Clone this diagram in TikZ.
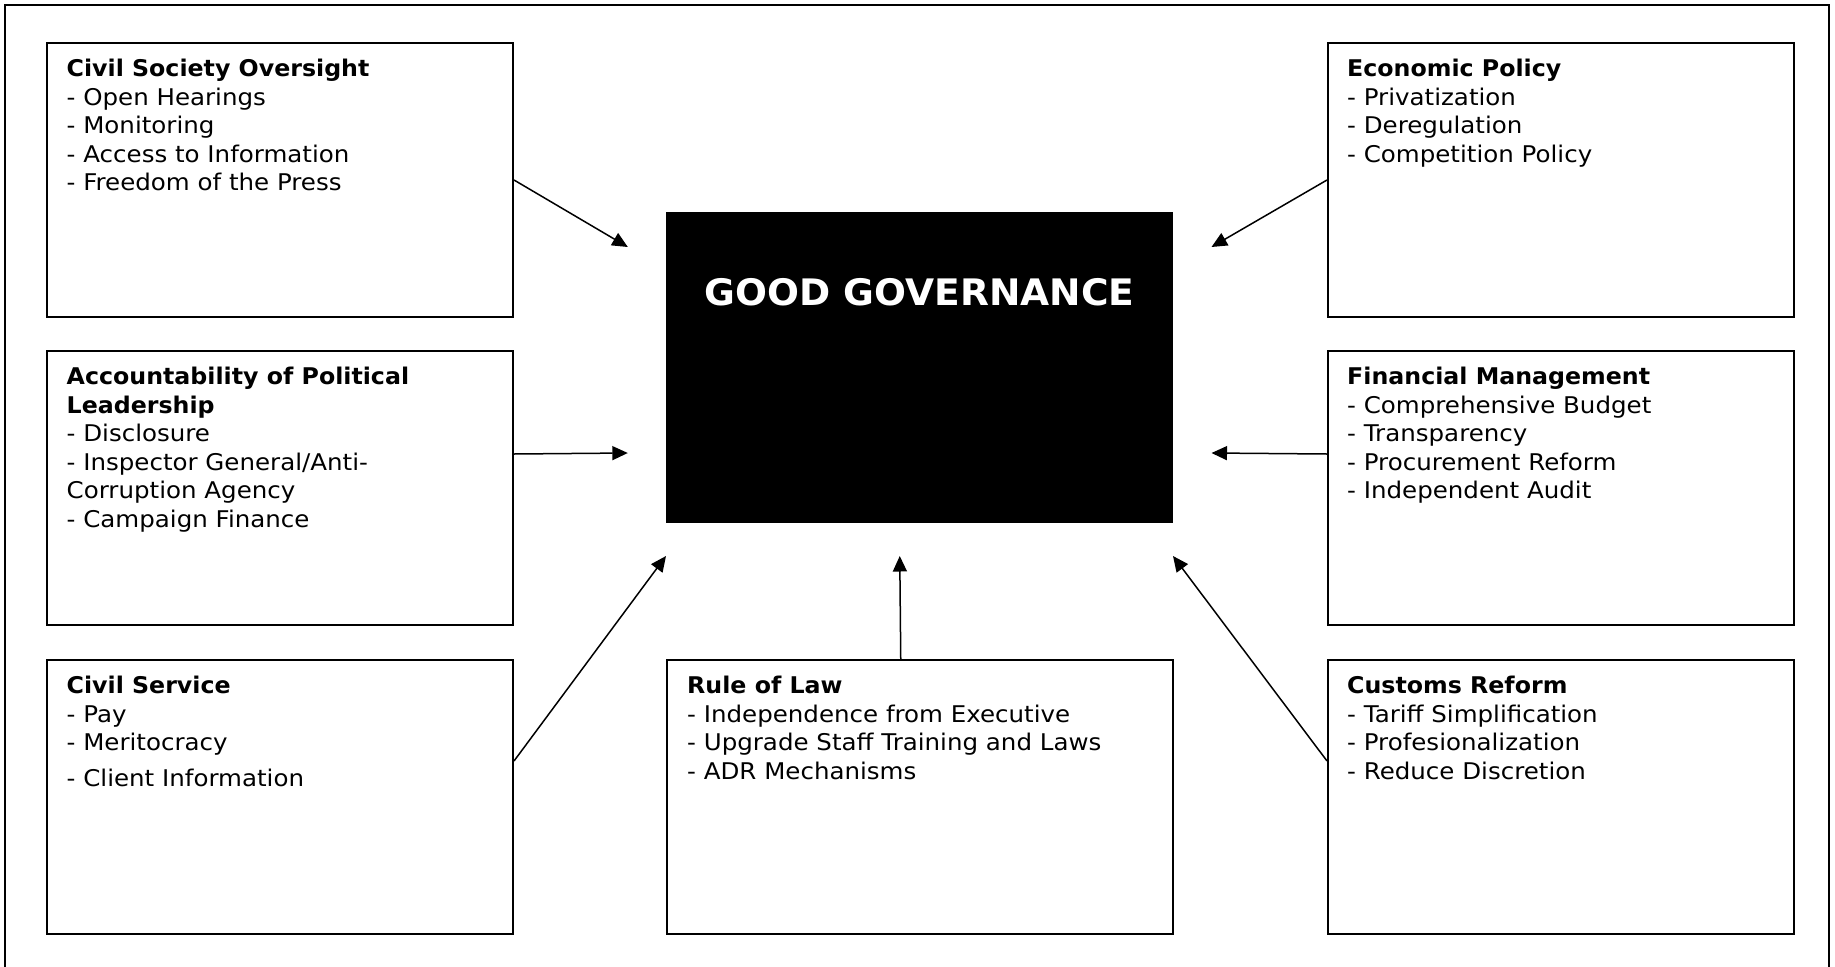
\documentclass[tikz,border=0pt]{standalone}
\usepackage{fontspec}
\setmainfont{DejaVu Sans}[FakeStretch=1.066,BoldFeatures={FakeStretch=1.03}]
\usetikzlibrary{arrows.meta,calc}
\newcommand\fl{\rule{0pt}{20.7pt}}
\begin{document}
\begin{tikzpicture}[x=1pt,y=-1pt,
 box/.style={draw,line width=2pt,anchor=north west,inner sep=0,minimum width=466pt,minimum height=274pt},
 txt/.style={anchor=north west,inner sep=0,align=left,font=\fontsize{23}{28.6}\selectfont},
 arr/.style={-{Triangle[length=15.5pt,width=14pt]},line width=1.5pt}]
\useasboundingbox (0,0) rectangle (1835,966);
\draw[line width=2pt] (5,975) -- (5,5) -- (1829,5) -- (1829,975);
% boxes
\node[box] (cso) at (46,42) {};
\node[box] (acc) at (46,350) {};
\node[box] (csv) at (46,659) {};
\node[box] (eco) at (1327,42) {};
\node[box] (fin) at (1327,350) {};
\node[box] (cus) at (1327,659) {};
\node[box,minimum width=505.5pt] (rol) at (666,659) {};
\node[draw,fill=black,anchor=north west,inner sep=0,minimum width=506pt,minimum height=310pt] (gg) at (666,212) {};
% texts
\node[txt] (cso-t) at (66.5,55.6) {\fl\textbf{Civil Society Oversight}\\- Open Hearings\\- Monitoring\\- Access to Information\\- Freedom of the Press};
\node[txt] (acc-t) at (66.5,363.6) {\fl\textbf{Accountability of Political}\\\textbf{Leadership}\\- Disclosure\\- Inspector General/Anti-\\Corruption Agency\\- Campaign Finance};
\node[txt] (csv-t) at (66.5,672.6) {\fl\textbf{Civil Service}\\- Pay\\- Meritocracy\\[7pt]- Client Information};
\node[txt] (eco-t) at (1347,55.6) {\fl\textbf{Economic Policy}\\- Privatization\\- Deregulation\\- Competition Policy};
\node[txt] (fin-t) at (1347,363.6) {\fl\textbf{Financial Management}\\- Comprehensive Budget\\- Transparency\\- Procurement Reform\\- Independent Audit};
\node[txt] (cus-t) at (1347,672.6) {\fl\textbf{Customs Reform}\\- Tariff Simplification\\- Profesionalization\\- Reduce Discretion};
\node[txt] (rol-t) at (687,672.6) {\fl\textbf{Rule of Law}\\- Independence from Executive\\- Upgrade Staff Training and Laws\\- ADR Mechanisms};
\node[font=\fontsize{36.5}{40}\selectfont\bfseries,text=white,anchor=base,inner sep=0] (gg-t) at (919.5,305) {GOOD GOVERNANCE};
% arrow ends
\coordinate (e1) at (627.8,247);
\coordinate (e2) at (627.8,453);
\coordinate (e3) at (666,556);
\coordinate (e4) at (899.75,556);
\coordinate (e5) at (1173,556);
\coordinate (e6) at (1211.5,247);
\coordinate (e7) at (1211.5,453);
\draw[arr] (cso.east) -- (e1);
\draw[arr] ($(acc.east)+(0,-34)$) -- (e2);
\draw[arr] ($(csv.east)+(0,-36)$) -- (e3);
\draw[arr] ($(rol.north)+(-19,0)$) -- (e4);
\draw[arr] ($(cus.west)+(0,-36)$) -- (e5);
\draw[arr] (eco.west) -- (e6);
\draw[arr] ($(fin.west)+(0,-34)$) -- (e7);
\end{tikzpicture}
\end{document}
